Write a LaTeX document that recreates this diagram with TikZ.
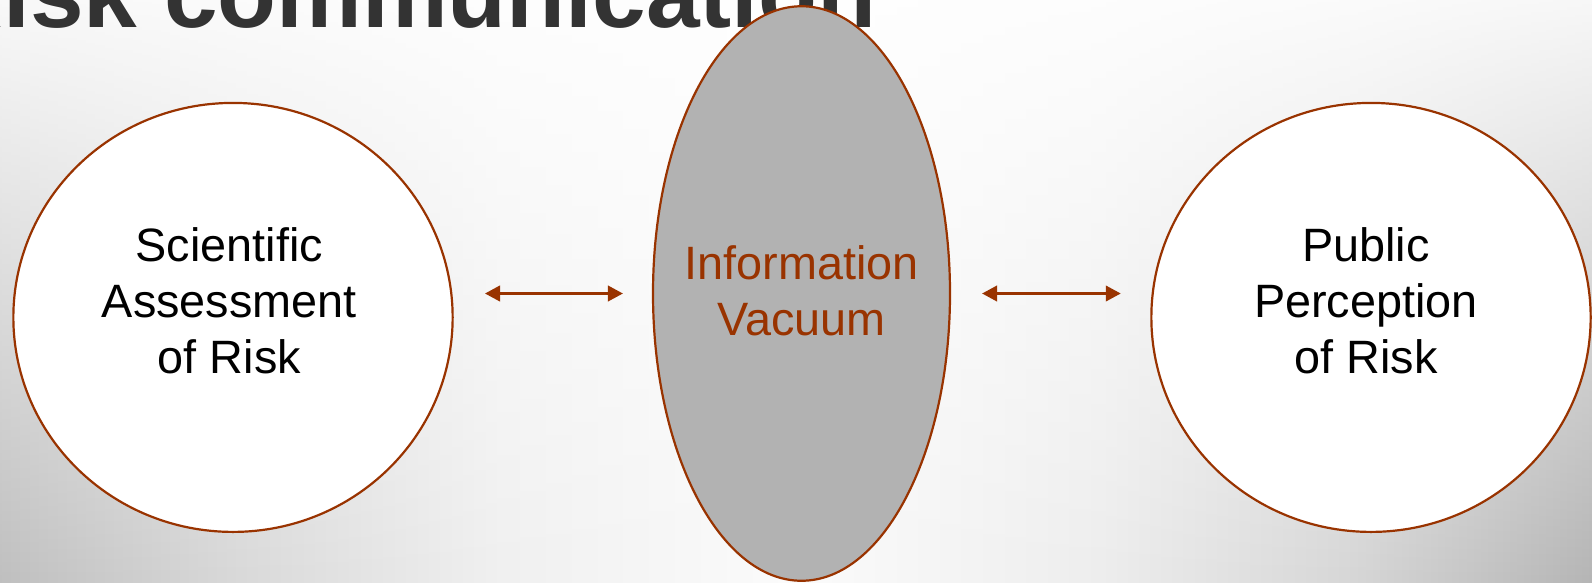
\documentclass[tikz,border=0pt]{standalone}
\usepackage{fontspec}
\setmainfont{Liberation Sans}
\usetikzlibrary{arrows.meta,shapes.geometric,fadings}
\definecolor{rust}{HTML}{993300}
\definecolor{titlegray}{HTML}{333333}
\definecolor{vacfill}{HTML}{B2B2B2}
\pgfdeclarehorizontalshading{bgh}{100bp}{color(0bp)=(gray!50); color(25bp)=(gray!50); color(32.5bp)=(gray!30); color(40.7bp)=(gray!12); color(50bp)=(gray!3); color(59.5bp)=(gray!14); color(67.5bp)=(gray!32); color(75bp)=(gray!58); color(100bp)=(gray!58)}
\tikzfading[name=vfade, top color=transparent!90, bottom color=transparent!0]
\begin{document}
\begin{tikzpicture}[x=1pt,y=1pt,
  oval/.style={ellipse, draw=rust, line width=2.2pt, inner sep=0pt},
  lbl/.style={align=center, inner sep=0pt, font=\fontsize{46.8}{56}\selectfont},
  tip/.tip={Triangle[length=15pt,width=15.5pt]},
  link/.style={draw=rust, line width=2.5pt, tip-tip}]
\useasboundingbox (0,0) rectangle (1595,-582);
\fill[white] (0,0) rectangle (1595,-582);
\shade[shading=bgh, path fading=vfade] (0,0) rectangle (1595,-582);
\begin{scope}
\clip (0,0) rectangle (1595,-582);
\node[anchor=base west, inner sep=0pt, text=titlegray, font=\fontsize{96.4}{100}\selectfont\bfseries] (title) at (-66.4,-27) {Risk communication};
\end{scope}
\node[oval, fill=white, minimum width=439.3pt, minimum height=429pt] (sci) at (233,-317.4) {};
\node[oval, fill=vacfill, minimum width=297pt, minimum height=574.5pt] (vac) at (801.5,-293.5) {};
\node[oval, fill=white, minimum width=439.3pt, minimum height=429pt] (pub) at (1371,-317.4) {};
\node[lbl] (scitext) at (229.4,-301) {Scientific\\Assessment\\of Risk};
\node[lbl, text=rust] (vactext) at (801.5,-290.75) {Information\\Vacuum};
\node[lbl] (pubtext) at (1366,-301) {Public\\Perception\\of Risk};
\draw[link, shorten <=31.25pt, shorten >=29pt] (sci.east |- vac.center) -- (vac.west);
\draw[link, shorten <=31pt, shorten >=29.5pt] (vac.east) -- (pub.west |- vac.center);
\end{tikzpicture}
\end{document}
